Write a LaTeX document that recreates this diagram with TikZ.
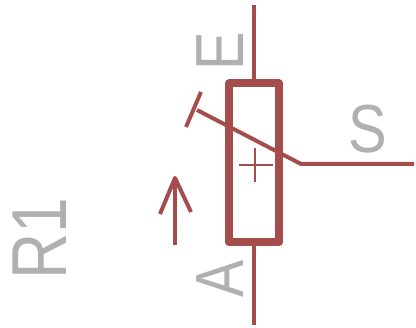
\documentclass[tikz,border=0pt]{standalone}
\usepackage{fontspec}
\setmainfont{Liberation Sans}
\usetikzlibrary{positioning}
\definecolor{wire}{HTML}{A54D4D}
\definecolor{lbl}{HTML}{B0B0B0}
\tikzset{>=latex}

\begin{document}
\begin{tikzpicture}[x=1pt, y=-1pt,
		body/.style={rectangle, draw=wire, line width=8pt, line join=round, inner sep=0pt, minimum width=50pt, minimum height=159pt},
		wirepart/.style={draw=wire, line width=4pt},
		thinpart/.style={draw=wire, line width=2pt},
		lab/.style={text=lbl, inner sep=0pt, font=\fontsize{68}{68}\selectfont}]
		\useasboundingbox (0,0) rectangle (416,328);
		\node[body] (r1) at (254,163) {};
		\coordinate (etop) at (254,5);
		\coordinate (abot) at (254,325);
		\coordinate (send) at (414,164);
		\coordinate (sknee) at (301,164);
		\coordinate (wtip) at (197,110);
		\coordinate (tbar1) at (201,92);
		\coordinate (tbar2) at (186,127);
		\coordinate (crossw) at (239,165);
		\coordinate (crosse) at (273,165);
		\coordinate (crossn) at (255,148);
		\coordinate (crosss) at (255,182);
		\coordinate (arrtail) at (175,245);
		\coordinate (arrtip) at (175,178);
		\coordinate (arrl) at (160,214);
		\coordinate (arrr) at (191,212);
		\draw[wirepart] (etop) -- (r1.north);
		\draw[wirepart] (abot) -- (r1.south);
		\draw[wirepart] (send) -- (sknee) -- (wtip);
		\draw[wirepart] (tbar1) -- (tbar2);
		\draw[thinpart] (crossw) -- (crosse);
		\draw[thinpart] (crossn) -- (crosss);
		\draw[wirepart] (arrtail) -- (arrtip);
		\draw[wirepart, line join=round] (arrl) -- (arrtip) -- (arrr);
		\node[lab, rotate=90, xscale=.85] (lblE) at (220,51) {E};
		\node[lab, xscale=.85] (lblS) at (368,129) {S};
		\node[lab, rotate=90, xscale=.82] (lblA) at (220,279) {A};
		\node[lab, rotate=90, xscale=.82, font=\fontsize{78}{78}\selectfont] (lblR) at (40,239) {R1};
\end{tikzpicture}
\end{document}
